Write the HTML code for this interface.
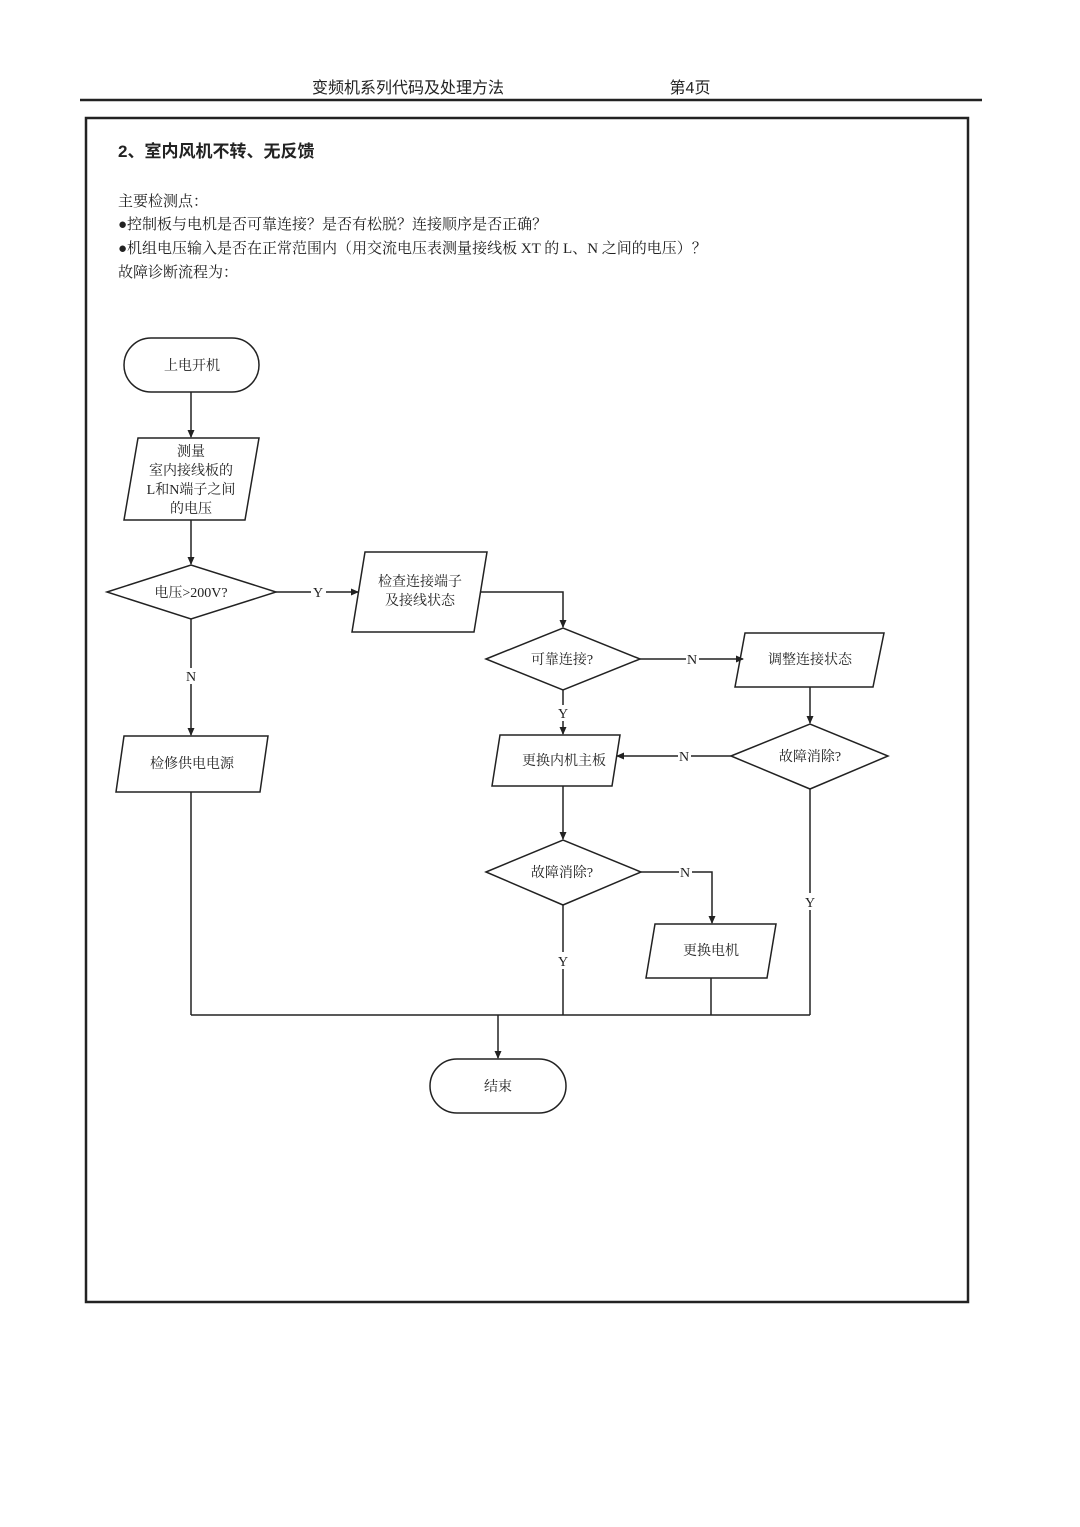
<!DOCTYPE html>
<html><head><meta charset="utf-8"><style>
html,body{margin:0;padding:0;background:#fff;}
svg{display:block;}
text{font-family:"Liberation Serif","Noto Serif CJK SC","Noto Sans CJK SC",serif;fill:#222;}
.s{font-family:"Liberation Sans","Noto Sans CJK SC",sans-serif;}
</style></head><body>
<svg width="1080" height="1527" viewBox="0 0 1080 1527" xmlns="http://www.w3.org/2000/svg">
<defs><marker id="a" markerWidth="8" markerHeight="8" refX="7" refY="4" orient="auto" markerUnits="userSpaceOnUse"><path d="M0,0.5 L8,4 L0,7.5 z" fill="#222"/></marker></defs>
<text x="408" y="93" font-size="16" text-anchor="middle" class="s">变频机系列代码及处理方法</text>
<text x="690" y="93" font-size="16" text-anchor="middle" class="s">第4页</text>
<line x1="80" y1="100" x2="982" y2="100" stroke="#222" stroke-width="2.5"/>
<rect x="86" y="118" width="882" height="1184" fill="none" stroke="#222" stroke-width="2.5"/>
<text x="118" y="157" font-size="17" class="s" font-weight="bold">2、室内风机不转、无反馈</text>
<text x="118" y="206" font-size="15">主要检测点：</text>
<text x="118" y="229" font-size="15">●控制板与电机是否可靠连接？是否有松脱？连接顺序是否正确？</text>
<text x="118" y="253" font-size="15">●机组电压输入是否在正常范围内（用交流电压表测量接线板 XT 的 L、N 之间的电压）？</text>
<text x="118" y="277" font-size="15">故障诊断流程为：</text>
<g fill="none" stroke="#222" stroke-width="1.5">
<rect x="124" y="338" width="135" height="54" rx="27"/>
<polygon points="138,438 259,438 245,520 124,520"/>
<polygon points="107,592 191,565 276,592 191,619"/>
<polygon points="365,552 487,552 474,632 352,632"/>
<polygon points="486,659 563,628 640,659 563,690"/>
<polygon points="745,633 884,633 873,687 735,687"/>
<polygon points="731,756 810,724 888,756 810,789"/>
<polygon points="500,735 620,735 612,786 492,786"/>
<polygon points="124,736 268,736 260,792 116,792"/>
<polygon points="486,872 563,840 641,872 563,905"/>
<polygon points="655,924 776,924 767,978 646,978"/>
<rect x="430" y="1059" width="136" height="54" rx="27"/>
<line x1="191" y1="392" x2="191" y2="437" marker-end="url(#a)"/>
<line x1="191" y1="520" x2="191" y2="564" marker-end="url(#a)"/>
<line x1="276" y1="592" x2="311" y2="592"/>
<line x1="326" y1="592" x2="358" y2="592" marker-end="url(#a)"/>
<polyline points="480,592 563,592 563,627" marker-end="url(#a)"/>
<line x1="640" y1="659" x2="686" y2="659"/>
<line x1="699" y1="659" x2="743" y2="659" marker-end="url(#a)"/>
<line x1="810" y1="687" x2="810" y2="723" marker-end="url(#a)"/>
<line x1="731" y1="756" x2="691" y2="756"/>
<line x1="678" y1="756" x2="617" y2="756" marker-end="url(#a)"/>
<line x1="563" y1="690" x2="563" y2="705"/>
<line x1="563" y1="721" x2="563" y2="734" marker-end="url(#a)"/>
<line x1="191" y1="619" x2="191" y2="668"/>
<line x1="191" y1="684" x2="191" y2="735" marker-end="url(#a)"/>
<line x1="563" y1="786" x2="563" y2="839" marker-end="url(#a)"/>
<line x1="641" y1="872" x2="679" y2="872"/>
<polyline points="692,872 712,872 712,923" marker-end="url(#a)"/>
<line x1="563" y1="905" x2="563" y2="952"/>
<line x1="563" y1="969" x2="563" y2="1015"/>
<line x1="711" y1="978" x2="711" y2="1015"/>
<line x1="810" y1="789" x2="810" y2="893"/>
<line x1="810" y1="910" x2="810" y2="1015"/>
<line x1="191" y1="792" x2="191" y2="1015"/>
<line x1="191" y1="1015" x2="810" y2="1015"/>
<line x1="498" y1="1015" x2="498" y2="1058" marker-end="url(#a)"/>
</g>
<g font-size="14" text-anchor="middle">
<text x="192" y="370">上电开机</text>
<text x="191" y="456">测量</text>
<text x="191" y="475">室内接线板的</text>
<text x="191" y="494">L和N端子之间</text>
<text x="191" y="513">的电压</text>
<text x="191" y="597">电压&gt;200V?</text>
<text x="318" y="597">Y</text>
<text x="420" y="586">检查连接端子</text>
<text x="420" y="605">及接线状态</text>
<text x="562" y="664">可靠连接?</text>
<text x="692" y="664">N</text>
<text x="810" y="664">调整连接状态</text>
<text x="810" y="761">故障消除?</text>
<text x="684" y="761">N</text>
<text x="563" y="718">Y</text>
<text x="564" y="765">更换内机主板</text>
<text x="191" y="681">N</text>
<text x="192" y="768">检修供电电源</text>
<text x="562" y="877">故障消除?</text>
<text x="685" y="877">N</text>
<text x="711" y="955">更换电机</text>
<text x="563" y="966">Y</text>
<text x="810" y="907">Y</text>
<text x="498" y="1091">结束</text>
</g>
</svg>
</body></html>
